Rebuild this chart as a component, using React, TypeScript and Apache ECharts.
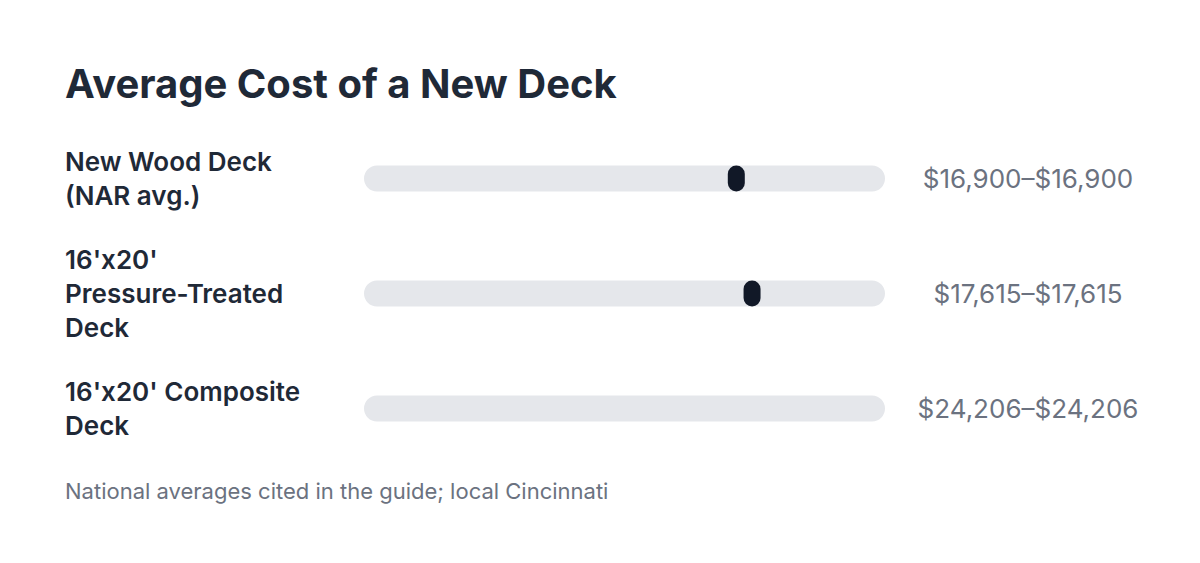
import { useEffect, useRef } from "react";
import * as echarts from "echarts";

// Deck types and their cost ranges (low–high).
const CATEGORIES = ["New Wood Deck\n(NAR avg.)", "16'x20'\nPressure-Treated\nDeck", "16'x20' Composite\nDeck"];
const LOWS = [16900, 17615, 24206];
const HIGHS = [16900, 17615, 24206];
const SCALE_MAX = 23650;

const INK = "#1f2937";
const MUTED = "#6b7280";
const TRACK = "#e5e7eb";
const MARK = "#111827";
const FONT = "Inter, 'Noto Sans', sans-serif";

const money = (v: number) => "$" + v.toLocaleString("en-US");

export default function App() {
  const boxRef = useRef<HTMLDivElement>(null);

  useEffect(() => {
    if (!boxRef.current) return;
    const chart = echarts.init(boxRef.current, undefined, { renderer: "svg" });
    const rangeLabels = LOWS.map((lo, i) => `${money(lo)}–${money(HIGHS[i])}`);

    chart.setOption({
      animation: false,
      backgroundColor: "#ffffff",
      textStyle: { fontFamily: FONT },
      title: {
        text: "Average Cost of a New Deck",
        left: 60,
        top: 58,
        textStyle: { fontFamily: FONT, fontSize: 40, fontWeight: 700, color: INK },
      },
      grid: { left: 364, right: 315, top: 121, bottom: 97 },
      xAxis: { type: "value", min: 0, max: SCALE_MAX, show: false },
      yAxis: [
        {
          type: "category",
          data: CATEGORIES,
          inverse: true,
          axisLine: { show: false },
          axisTick: { show: false },
          axisLabel: {
            align: "left",
            margin: 299,
            fontFamily: FONT,
            fontSize: 26,
            fontWeight: 600,
            lineHeight: 34,
            color: INK,
          },
        },
        {
          type: "category",
          data: rangeLabels,
          inverse: true,
          position: "right",
          axisLine: { show: false },
          axisTick: { show: false },
          axisLabel: {
            align: "center",
            margin: 143,
            fontFamily: FONT,
            fontSize: 26,
            fontWeight: 400,
            color: MUTED,
          },
        },
      ],
      series: [
        {
          type: "custom",
          clip: true,
          data: LOWS.map((lo, i) => [lo, HIGHS[i], i]),
          encode: { x: [0, 1], y: 2 },
          renderItem: (params: any, api: any) => {
            const cs = params.coordSys;
            const row = api.value(2);
            const lo = api.coord([api.value(0), row]);
            const hi = api.coord([api.value(1), row]);
            const h = 26;
            const minW = 17;
            const w = Math.max(minW, hi[0] - lo[0]);
            const cx = (lo[0] + hi[0]) / 2;
            return {
              type: "group",
              children: [
                {
                  type: "rect",
                  shape: { x: cs.x, y: lo[1] - h / 2, width: cs.width, height: h, r: h / 2 },
                  style: { fill: TRACK },
                },
                {
                  type: "rect",
                  shape: { x: cx - w / 2, y: lo[1] - h / 2, width: w, height: h, r: minW / 2 },
                  style: { fill: MARK },
                },
              ],
            };
          },
        },
      ],
      graphic: [
        {
          type: "text",
          left: 65,
          top: 480,
          style: {
            text: "National averages cited in the guide; local Cincinnati",
            fontFamily: FONT,
            fontSize: 22,
            fill: MUTED,
          },
        },
      ],
    });

    return () => chart.dispose();
  }, []);

  return (
    <div
      ref={boxRef}
      style={{ position: "fixed", left: 0, top: 0, width: 1200, height: 563, background: "#ffffff" }}
    />
  );
}
